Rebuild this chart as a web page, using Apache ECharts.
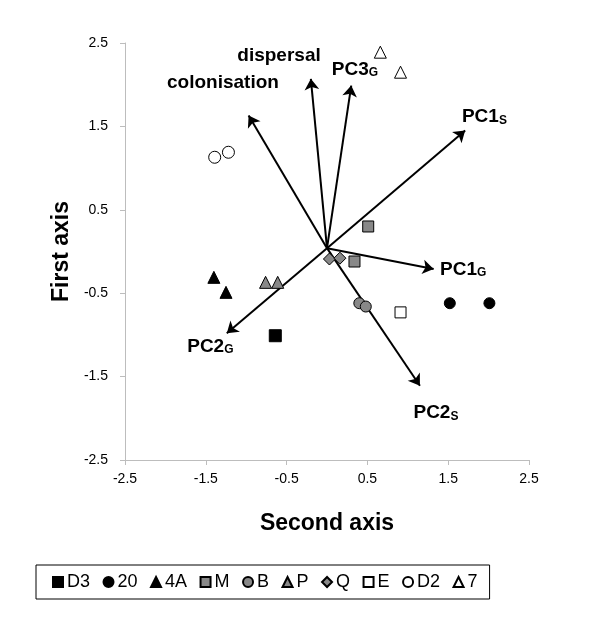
<!DOCTYPE html>
<html>
<head>
<meta charset="utf-8">
<script src="https://cdn.jsdelivr.net/npm/echarts@6/dist/echarts.min.js"></script>
<style>
  html, body { margin: 0; padding: 0; background: #fff; }
  #chart { width: 600px; height: 631px; }
</style>
</head>
<body>
<div id="chart"></div>
<script type="text/javascript">
    // ordination scores (x = second axis, y = first axis)
    var ptsD3 = [[-0.64, -1.01]];
    var pts20 = [[1.52, -0.62], [2.01, -0.62]];
    var pts4A = [[-1.40, -0.31], [-1.25, -0.49]];
    var ptsM = [[0.51, 0.30], [0.34, -0.12]];
    var ptsB = [[0.40, -0.62], [0.48, -0.66]];
    var ptsP = [[-0.76, -0.37], [-0.61, -0.37]];
    var ptsQ = [[0.03, -0.09], [0.16, -0.08]];
    var ptsE = [[0.91, -0.73]];
    var ptsD2 = [[-1.39, 1.13], [-1.22, 1.19]];
    var pts7 = [[0.66, 2.39], [0.91, 2.15]];

    // biplot vectors
    var arrowOrigin = [0, 0.04];
    var arrowTips = [[-0.97, 1.63], [-0.20, 2.07], [0.30, 1.99], [1.71, 1.45], [1.32, -0.21], [1.15, -1.61], [-1.24, -0.98]];
    var arrowMain = ['colonisation', 'dispersal', 'PC3', 'PC1', 'PC1', 'PC2', 'PC2'];
    var arrowSub = ['', '', 'G', 'S', 'G', 'S', 'G'];
    var arrowLabelAt = [[-1.98, 2.04], [-1.11, 2.36], [0.06, 2.20], [1.67, 1.63], [1.40, -0.20], [1.07, -1.92], [-1.73, -1.12]];

    var tickMin = -2.5, tickMax = 2.5, tickStep = 1;

    var chart = echarts.init(document.getElementById('chart'));

    function pointSeries(name, data, symbol, fill, size){
        return {
            name: name,
            type: 'scatter',
            data: data,
            symbol: symbol,
            symbolSize: size,
            itemStyle: { color: fill, borderColor: '#000', borderWidth: 1, opacity: 1 },
            z: 5
        };
    }

    var series = [
        pointSeries('D3', ptsD3, 'rect', '#000', 12),
        pointSeries('20', pts20, 'circle', '#000', 11),
        pointSeries('4A', pts4A, 'triangle', '#000', 12),
        pointSeries('M', ptsM, 'rect', '#888', 11),
        pointSeries('B', ptsB, 'circle', '#888', 11),
        pointSeries('P', ptsP, 'triangle', '#888', 12),
        pointSeries('Q', ptsQ, 'diamond', '#888', 12),
        pointSeries('E', ptsE, 'rect', '#fff', 11),
        pointSeries('D2', ptsD2, 'circle', '#fff', 12),
        pointSeries('7', pts7, 'triangle', '#fff', 12)
    ];

    var arrowData = [];
    var labelData = [];
    for (var i = 0; i < arrowTips.length; i++) {
        arrowData.push({ coords: [arrowOrigin, arrowTips[i]] });
        labelData.push({ value: arrowLabelAt[i], main: arrowMain[i], sub: arrowSub[i] });
    }

    series.push({
        name: 'vectors',
        type: 'lines',
        coordinateSystem: 'cartesian2d',
        data: arrowData,
        symbol: ['none', 'arrow'],
        symbolSize: 11,
        lineStyle: { color: '#000', width: 2, opacity: 1 },
        silent: true,
        z: 3
    });

    series.push({
        name: 'vectorLabels',
        type: 'scatter',
        data: labelData,
        symbolSize: 0,
        silent: true,
        itemStyle: { opacity: 1 },
        label: {
            show: true,
            position: 'right',
            distance: 0,
            color: '#000',
            opacity: 1,
            formatter: function(p){
                return '{m|' + p.data.main + '}' + (p.data.sub ? '{s|' + p.data.sub + '}' : '');
            },
            rich: {
                m: { fontFamily: 'Liberation Sans', fontWeight: 'bold', fontSize: 19, color: '#000', lineHeight: 22, verticalAlign: 'bottom' },
                s: { fontFamily: 'Liberation Sans', fontWeight: 'bold', fontSize: 12, color: '#000', lineHeight: 10, verticalAlign: 'bottom' }
            }
        },
        z: 6
    });

    var axisGray = '#bdbdbd';

    var option = {
        animation: false,
        backgroundColor: '#fff',
        grid: { left: 125, right: 71, top: 43, bottom: 171 },
        xAxis: {
            type: 'value',
            min: tickMin, max: tickMax, interval: tickStep,
            name: 'Second axis',
            nameLocation: 'middle',
            nameGap: 52,
            nameTextStyle: { fontFamily: 'Liberation Sans', fontWeight: 'bold', fontSize: 23, color: '#000' },
            axisLine: { show: true, onZero: false, lineStyle: { color: axisGray, width: 1 } },
            axisTick: { show: true, length: 5, lineStyle: { color: axisGray } },
            axisLabel: { margin: 12, fontFamily: 'Liberation Sans', fontSize: 14, color: '#000' },
            splitLine: { show: false }
        },
        yAxis: {
            type: 'value',
            min: tickMin, max: tickMax, interval: tickStep,
            name: 'First axis',
            nameLocation: 'middle',
            nameGap: 52,
            nameTextStyle: { fontFamily: 'Liberation Sans', fontWeight: 'bold', fontSize: 23, color: '#000' },
            axisLine: { show: true, onZero: false, lineStyle: { color: axisGray, width: 1 } },
            axisTick: { show: true, length: 5, lineStyle: { color: axisGray } },
            axisLabel: { margin: 17, fontFamily: 'Liberation Sans', fontSize: 14, color: '#000' },
            splitLine: { show: false }
        },
        legend: {
            data: ['D3', '20', '4A', 'M', 'B', 'P', 'Q', 'E', 'D2', '7'],
            left: 36,
            top: 565,
            orient: 'horizontal',
            itemWidth: 10,
            itemHeight: 10,
            itemGap: 12.5,
            padding: [8, 12, 8, 16],
            borderColor: '#000',
            borderWidth: 1,
            selectedMode: false,
            textStyle: { fontFamily: 'Liberation Sans', fontSize: 18, color: '#000', padding: [0, 0, 0, -1] }
        },
        series: series
    };

    chart.setOption(option);
</script>
</body>
</html>
